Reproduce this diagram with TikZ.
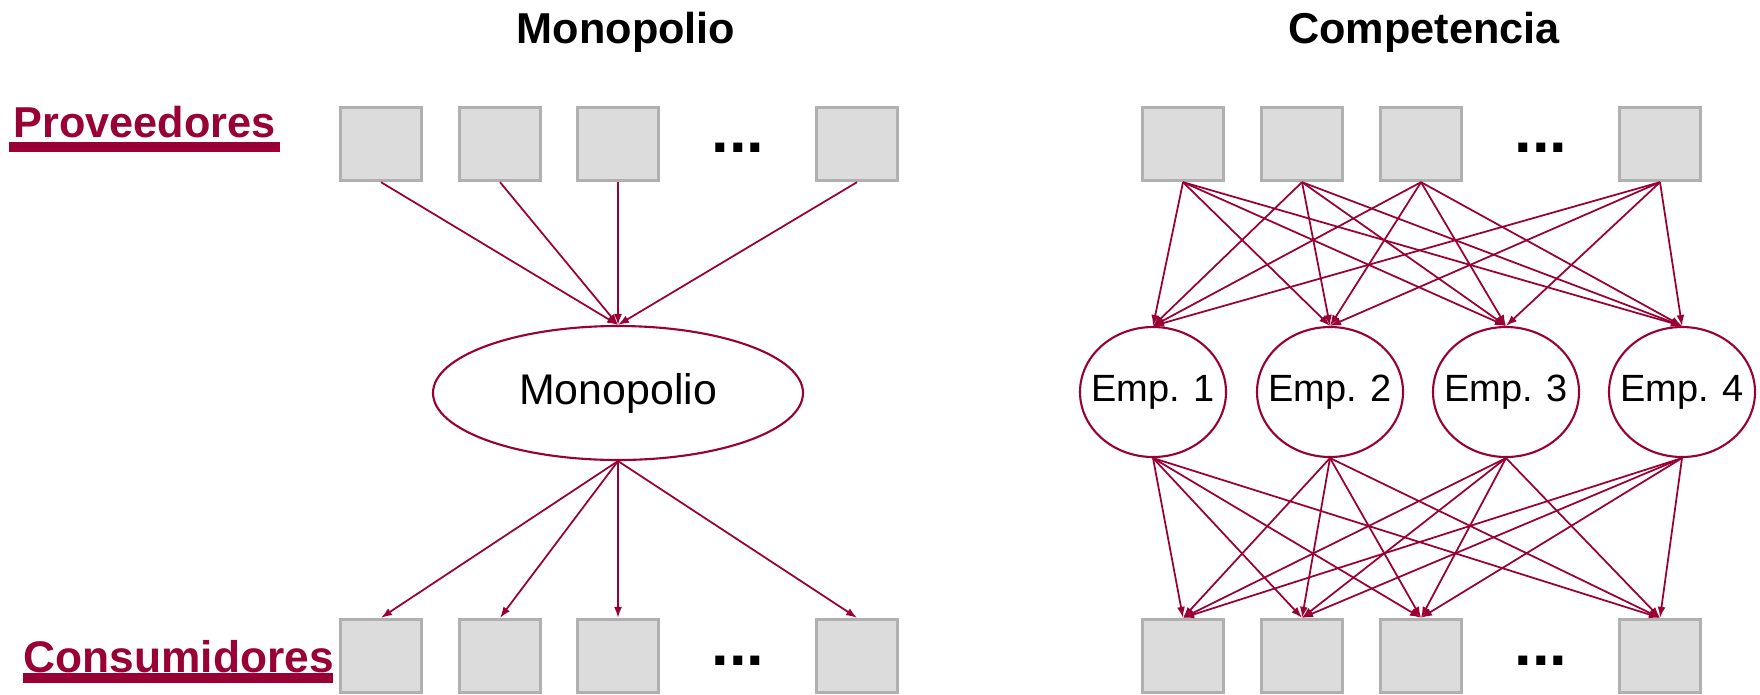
\documentclass[tikz,border=0pt]{standalone}
\usepackage{fontspec}
\setmainfont{Liberation Sans}
\usetikzlibrary{shapes.geometric,arrows.meta}
\definecolor{vino}{HTML}{990033}
\definecolor{grisclaro}{HTML}{DCDCDC}
\definecolor{grisborde}{HTML}{B0B0B0}

\begin{document}
\begin{tikzpicture}[x=0.1mm,y=0.1mm,
caja/.style = {rectangle, fill=grisclaro, draw=grisborde, line width=0.95pt,
  minimum width=8.1mm, minimum height=7.3mm, inner sep=0pt},
emp/.style = {ellipse, draw=vino, line width=0.6pt, minimum width=14.6mm,
  minimum height=13mm, inner sep=0pt,
  label={[font=\fontsize{10.8}{12}\selectfont]center:#1}},
titulo/.style = {anchor=base, font=\fontsize{12.3}{14}\selectfont\bfseries},
rotulo/.style = {anchor=base west, text=vino, inner sep=0pt},
puntos/.style = {anchor=base, inner sep=0pt, font=\fontsize{18}{20}\selectfont\bfseries},
flecha/.style = {draw=vino, line width=0.5pt, -{Latex[length=1.1mm,width=0.8mm]}}]
\useasboundingbox (0,0) rectangle (1760,694);

% titulos y rotulos
\node[titulo] (tmono) at (626,651) {Monopolio};
\node[titulo] (tcomp) at (1424,651) {Competencia};
\node[rotulo, font=\fontsize{12.3}{14}\selectfont\bfseries] (prov) at (13,557) {Proveedores};
\fill[vino] (9,542) rectangle (280,552);
\node[rotulo, font=\fontsize{12.6}{14}\selectfont\bfseries] (cons) at (23,22) {Consumidores};
\fill[vino] (23,11) rectangle (333,21);

% monopolio
\node[caja] (pL1) at (381,550) {};
\node[caja] (pL2) at (500,550) {};
\node[caja] (pL3) at (618,550) {};
\node[puntos] (dL1) at (738,542) {...};
\node[caja] (pL4) at (857,550) {};

\node[ellipse, draw=vino, line width=0.6pt, minimum width=37mm, minimum height=13.4mm,
  font=\fontsize{12.2}{14}\selectfont] (mono) at (618,301) {Monopolio};

\node[caja] (cL1) at (381,38) {};
\node[caja] (cL2) at (500,38) {};
\node[caja] (cL3) at (618,38) {};
\node[puntos] (dL2) at (738,29) {...};
\node[caja] (cL4) at (857,38) {};

\path (pL1.south) edge[flecha] (mono.north)
      (pL2.south) edge[flecha] (mono.north)
      (pL3.south) edge[flecha] (mono.north)
      (pL4.south) edge[flecha] (mono.north);
\path (mono.south) edge[flecha] (cL1.north) edge[flecha] (cL2.north)
      edge[flecha] (cL3.north) edge[flecha] (cL4.north);

% competencia
\node[caja] (pR1) at (1183,550) {};
\node[caja] (pR2) at (1302,550) {};
\node[caja] (pR3) at (1421,550) {};
\node[puntos] (dR1) at (1541,542) {...};
\node[caja] (pR4) at (1660,550) {};

\node[emp={Emp. 1}] (e1) at (1153,302) {};
\node[emp={Emp. 2}] (e2) at (1330,302) {};
\node[emp={Emp. 3}] (e3) at (1506,302) {};
\node[emp={Emp. 4}] (e4) at (1682,302) {};

\node[caja] (cR1) at (1183,38) {};
\node[caja] (cR2) at (1302,38) {};
\node[caja] (cR3) at (1421,38) {};
\node[puntos] (dR2) at (1541,29) {...};
\node[caja] (cR4) at (1660,38) {};

\path (pR1.south) edge[flecha] (e1.north) edge[flecha] (e2.north) edge[flecha] (e3.north) edge[flecha] (e4.north);
\path (pR2.south) edge[flecha] (e1.north) edge[flecha] (e2.north) edge[flecha] (e3.north) edge[flecha] (e4.north);
\path (pR3.south) edge[flecha] (e1.north) edge[flecha] (e2.north) edge[flecha] (e3.north) edge[flecha] (e4.north);
\path (pR4.south) edge[flecha] (e1.north) edge[flecha] (e2.north) edge[flecha] (e3.north) edge[flecha] (e4.north);

\path (e1.south) edge[flecha] (cR1.north) edge[flecha] (cR2.north) edge[flecha] (cR3.north) edge[flecha] (cR4.north);
\path (e2.south) edge[flecha] (cR1.north) edge[flecha] (cR2.north) edge[flecha] (cR3.north) edge[flecha] (cR4.north);
\path (e3.south) edge[flecha] (cR1.north) edge[flecha] (cR2.north) edge[flecha] (cR3.north) edge[flecha] (cR4.north);
\path (e4.south) edge[flecha] (cR1.north) edge[flecha] (cR2.north) edge[flecha] (cR3.north) edge[flecha] (cR4.north);

\end{tikzpicture}
\end{document}
